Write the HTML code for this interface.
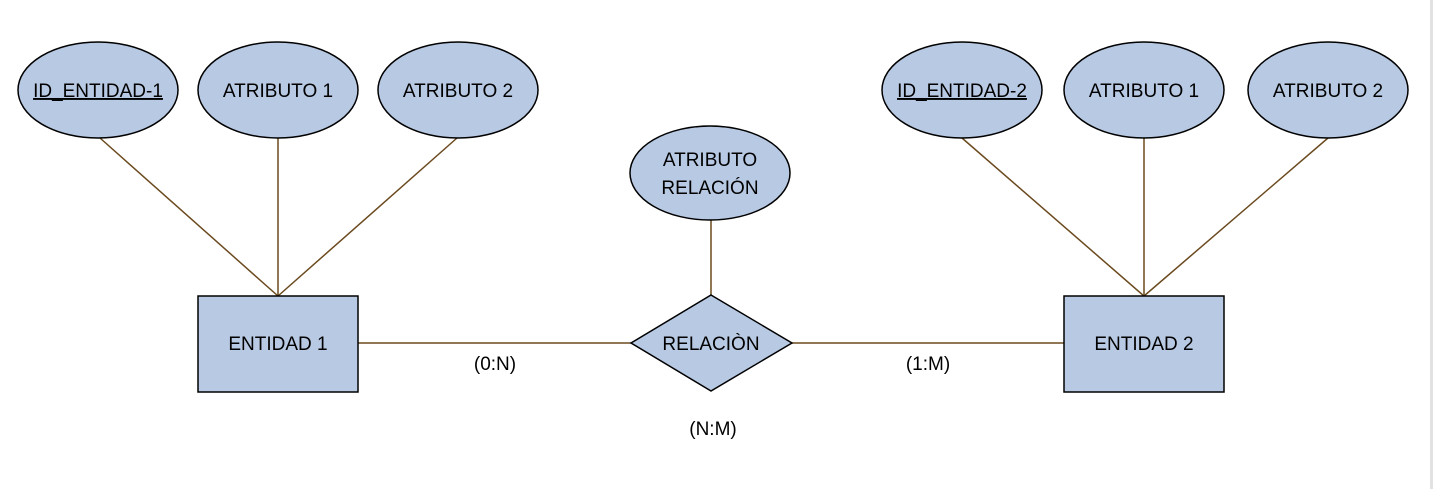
<!DOCTYPE html>
<html><head><meta charset="utf-8"><style>
html,body{margin:0;padding:0;background:#fff;}
svg{display:block;}
text{font-family:"Liberation Sans",sans-serif;font-size:19px;fill:#000;}
</style></head><body>
<svg width="1433" height="489" viewBox="0 0 1433 489">
<rect x="1430" y="0" width="3" height="489" fill="#e2e2e2"/>
<g stroke="#6b4a1f" stroke-width="1.5" fill="none">
<line x1="100" y1="138" x2="278" y2="296"/>
<line x1="278" y1="138" x2="278" y2="296"/>
<line x1="457" y1="138" x2="278" y2="296"/>
<line x1="962" y1="138" x2="1144" y2="296"/>
<line x1="1144" y1="138" x2="1144" y2="296"/>
<line x1="1328" y1="138" x2="1144" y2="296"/>
<line x1="711" y1="220" x2="711" y2="295"/>
<line x1="358" y1="343" x2="631" y2="343"/>
<line x1="792" y1="343" x2="1064" y2="343"/>
</g>
<g fill="#b8c9e3" stroke="#000" stroke-width="1.5">
<ellipse cx="98" cy="90" rx="80" ry="48"/>
<ellipse cx="278" cy="90" rx="80" ry="48"/>
<ellipse cx="458" cy="90" rx="80" ry="48"/>
<ellipse cx="962" cy="90" rx="80" ry="48"/>
<ellipse cx="1144" cy="90" rx="80" ry="48"/>
<ellipse cx="1328" cy="90" rx="80" ry="48"/>
<ellipse cx="710" cy="173" rx="80" ry="47"/>
<rect x="198" y="296" width="160" height="96"/>
<rect x="1064" y="296" width="160" height="96"/>
<polygon points="711,295 792,343 711,391 631,343"/>
</g>
<g text-anchor="middle">
<text x="98" y="97" text-decoration="underline">ID_ENTIDAD-1</text>
<text x="278" y="97">ATRIBUTO 1</text>
<text x="458" y="97">ATRIBUTO 2</text>
<text x="962" y="97" text-decoration="underline">ID_ENTIDAD-2</text>
<text x="1144" y="97">ATRIBUTO 1</text>
<text x="1328" y="97">ATRIBUTO 2</text>
<text x="710" y="166">ATRIBUTO</text>
<text x="710" y="194">RELACIÓN</text>
<text x="278" y="350">ENTIDAD 1</text>
<text x="1144" y="350">ENTIDAD 2</text>
<text x="711" y="350">RELACIÒN</text>
<text x="495" y="370">(0:N)</text>
<text x="928" y="370">(1:M)</text>
<text x="713" y="435">(N:M)</text>
</g>
</svg>
</body></html>
